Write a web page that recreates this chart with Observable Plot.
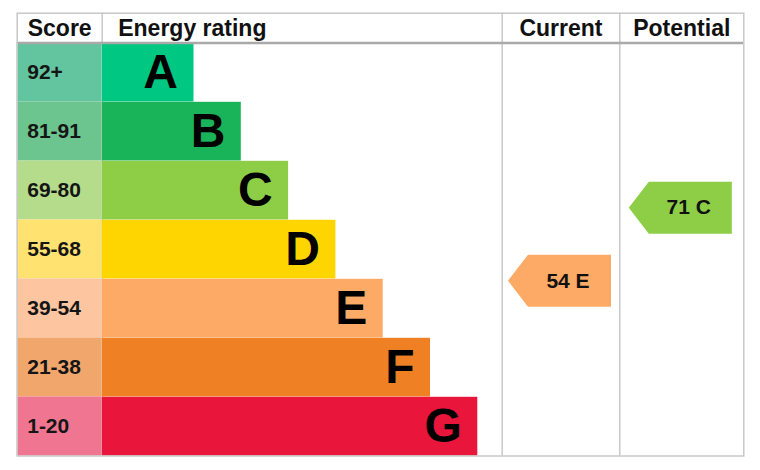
<!DOCTYPE html>
<html>
<head>
<meta charset="utf-8">
<script src="https://cdn.jsdelivr.net/npm/d3@7"></script>
<script src="https://cdn.jsdelivr.net/npm/@observablehq/plot@0.6"></script>
<style>
  html, body { margin: 0; padding: 0; background: #fff; }
</style>
</head>
<body>
<div id="chart"></div>
<script>
// ---- data ----
const bands = ["A", "B", "C", "D", "E", "F", "G"];
const scoreLabels = ["92+", "81-91", "69-80", "55-68", "39-54", "21-38", "1-20"];
const bandLow = [92, 81, 69, 55, 39, 21, 1];
const bandHigh = [100, 91, 80, 68, 54, 38, 20];
const barColors = ["#00c781", "#19b459", "#8dce46", "#ffd500", "#fcaa65", "#ef8023", "#e9153b"];
const cellColors = ["#62c5a0", "#6cc48e", "#b4dc8a", "#ffe270", "#fdc5a0", "#f1a66c", "#f07590"];
const columnHeaders = ["Score", "Energy rating", "Current", "Potential"];
const ratingColumns = ["Current", "Potential"];
const ratingValues = [54, 71];
const ratingBands = ["E", "C"];

// ---- layout (x in "bar step" units: band i bar ends at i+1; y in row units) ----
const X0 = -2.738, XR = -0.941, XC = 7.516, XP = 10.002, X1 = 12.624;
const colEdges = {Score: [X0, XR], "Energy rating": [XR, XC], Current: [XC, XP], Potential: [XP, X1]};

const rows = bands.map((b, i) => ({
  band: b, label: scoreLabels[i], lo: bandLow[i], hi: bandHigh[i],
  row: i, step: i + 1, bar: barColors[i], cell: cellColors[i]
}));
// score -> row position (piecewise, each band spans one row)
const scoreToRow = d3.scaleLinear()
  .domain([bandHigh[0] + 0.5, ...bandLow.map(v => v - 0.5)])
  .range(d3.range(0, bands.length + 1));
const arrows = ratingColumns.map((c, i) => {
  const bi = bands.indexOf(ratingBands[i]);
  return {col: c, value: ratingValues[i], band: ratingBands[i], color: barColors[bi],
          xc: (colEdges[c][0] + colEdges[c][1]) / 2, yr: scoreToRow(ratingValues[i])};
});
const centeredHeaders = columnHeaders.filter(h => h !== "Energy rating")
  .map(h => ({name: h, xc: (colEdges[h][0] + colEdges[h][1]) / 2}));

// arrow symbol (pointing left)
const arrowSymbol = {
  draw(ctx) {
    const w = 51.5, h = 26, t = 31.5;
    ctx.moveTo(-w, 0);
    ctx.lineTo(-t, -h);
    ctx.lineTo(w, -h);
    ctx.lineTo(w, h);
    ctx.lineTo(-t, h);
    ctx.closePath();
  }
};

const font = "'Liberation Sans', Arial, Helvetica, sans-serif";

const chart = Plot.plot({
  width: 760,
  height: 470,
  marginLeft: 16.7,
  marginRight: 16.7,
  marginTop: 12.7,
  marginBottom: 14.5,
  style: {fontFamily: font, background: "#fff", color: "#111"},
  x: {domain: [X0, X1], axis: null},
  y: {domain: [0, bands.length], range: [42.5, 455.5], axis: null},
  marks: [
    Plot.ruleX([XR, XC, XP], {stroke: "#c8c8c8", strokeWidth: 1.5}),
    Plot.rect(rows, {x1: X0, x2: XR, y1: "row", y2: d => d.row + 1, fill: d => d.cell, insetRight: 0.5}),
    Plot.rect(rows, {x1: XR, x2: "step", y1: "row", y2: d => d.row + 1, fill: d => d.bar, insetTop: 0.3}),
    Plot.text(rows, {x: X0, y: d => d.row + 0.5, text: "label", dx: 10, textAnchor: "start",
      fontSize: 21, fontWeight: "bold", fill: "#151515"}),
    Plot.text(rows, {x: "step", y: d => d.row + 0.5, text: "band", dx: -16, textAnchor: "end",
      fontSize: 48, fontWeight: "bold", fill: "#000"}),
    Plot.ruleY([0], {stroke: "#a9a9a9", strokeWidth: 2.5}),
    Plot.frame({stroke: "#c8c8c8", strokeWidth: 1.5}),
    Plot.text(centeredHeaders, {x: "xc", y: 0, dy: -14, text: "name", textAnchor: "middle",
      fontSize: 23, fontWeight: "bold", fill: "#111"}),
    Plot.text(["Energy rating"], {x: XR, y: 0, dy: -14, dx: 16, text: d => d, textAnchor: "start",
      fontSize: 23, fontWeight: "bold", fill: "#111"}),
    Plot.dot(arrows, {x: "xc", y: "yr", fill: "color", symbol: arrowSymbol, r: 5, stroke: "none", dx: -1.5}),
    Plot.text(arrows, {x: "xc", y: "yr", text: d => `${d.value} ${d.band}`, dx: 7,
      fontSize: 21, fontWeight: "bold", fill: "#111"})
  ]
});
document.getElementById("chart").appendChild(chart);
</script>
</body>
</html>
